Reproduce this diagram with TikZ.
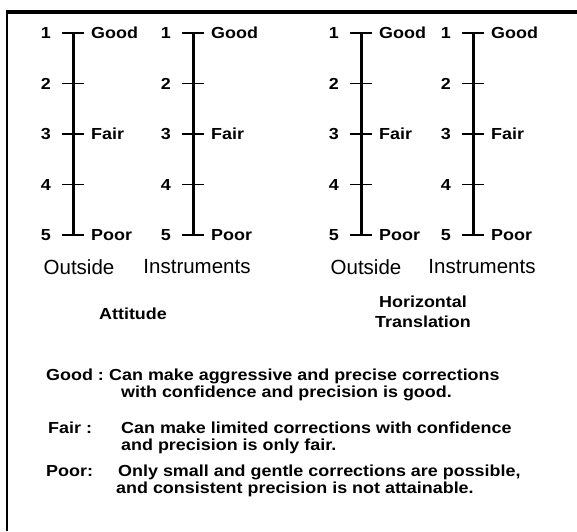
\documentclass[tikz,border=0pt]{standalone}
\usepackage{fontspec}
\newfontfamily\boldsans{Liberation Sans}[FakeStretch=1.12]
\newfontfamily\plainsans{Liberation Sans}
\usetikzlibrary{positioning}
\newcommand\labfont{\boldsans\bfseries\fontsize{16}{17}\selectfont}
\newcommand\srcfont{\plainsans\fontsize{20.5}{21}\selectfont}

\begin{document}
\begin{tikzpicture}[
  x=1pt, y=-1pt,
  axisline/.style={line width=3pt},
  tickline/.style={line width=1.5pt},
  num/.style={font=\labfont, anchor=east, inner sep=0pt, text height=11.5pt, text depth=0pt},
  rate/.style={font=\labfont, anchor=west, inner sep=0pt, text height=11.5pt, text depth=0pt},
  src/.style={font=\srcfont, inner sep=0pt},
  title/.style={font=\labfont, align=center, inner sep=0pt},
  note/.style={font=\labfont, anchor=west, inner sep=0pt, text height=11.5pt, text depth=3pt}
]
\useasboundingbox (0,0) rectangle (577,531);
% frame (top and left edge only)
\draw[line width=4pt] (6,12) -- (577,12);
\draw[line width=2pt] (7,10) -- (7,531);

% the four rating scales
\foreach \ax/\nm in {73/ao, 193/ai, 361/ho, 473/hi} {
  \foreach \i in {1,...,5} {
    \coordinate (\nm-\i) at (\ax, {33+50.5*(\i-1)});
    \node[num] (\nm-n\i) at ([xshift=-22pt]\nm-\i) {\i};
    \draw[tickline] ([xshift=-11pt]\nm-\i) -- ([xshift=11pt]\nm-\i);
  }
  \draw[axisline] (\nm-1) -- (\nm-5);
  \node[rate] (\nm-good) at ([xshift=18pt]\nm-1) {Good};
  \node[rate] (\nm-fair) at ([xshift=18pt]\nm-3) {Fair};
  \node[rate] (\nm-poor) at ([xshift=18pt]\nm-5) {Poor};
}

\node[src] (ao-lab) at (79,267) {Outside};
\node[src] (ai-lab) at (197,267) {Instruments};
\node[src] (ho-lab) at (366,267) {Outside};
\node[src] (hi-lab) at (482,267) {Instruments};

\node[title] (att) at (133,314) {Attitude};
\node[title] (htr) at (423,312) {Horizontal\\[3pt]Translation};

% legend
\node[note] (gl) at (46,376) {Good :};
\node[note] (g1) at (109,376) {Can make aggressive and precise corrections};
\node[note] (g2) at (121,393) {with confidence and precision is good.};
\node[note] (fl) at (48,429) {Fair :};
\node[note] (f1) at (121,429) {Can make limited corrections with confidence};
\node[note] (f2) at (121,446) {and precision is only fair.};
\node[note] (pl) at (46,472) {Poor:};
\node[note] (p1) at (118,472) {Only small and gentle corrections are possible,};
\node[note] (p2) at (116,489) {and consistent precision is not attainable.};
\end{tikzpicture}
\end{document}
